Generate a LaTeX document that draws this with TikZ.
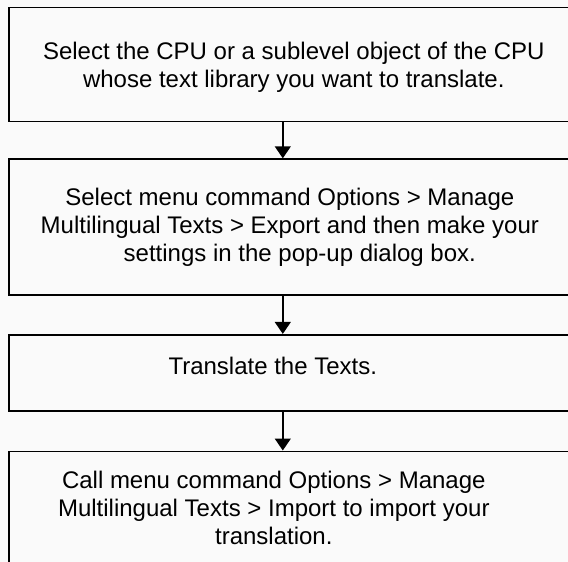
\documentclass[tikz,border=0pt]{standalone}
\usepackage{fontspec}
\setmainfont{Liberation Sans}
\usetikzlibrary{arrows.meta,positioning}
\tikzset{
  stepbox/.style={draw=black, line width=1.6pt, minimum width=570pt, inner sep=0pt},
  steptext/.style={align=center, inner sep=0pt, font=\fontsize{24}{28}\selectfont},
  arr/.style={-{Triangle[width=16pt,length=12pt]}, line width=1.4pt},
}
\begin{document}
\begin{tikzpicture}[x=1pt, y=1pt]
  \useasboundingbox[fill=white!98!black] (0,0) rectangle (568,-562);
  \clip (0,0) rectangle (568,-562);

  % the four steps
  \node[stepbox, minimum height=114pt, anchor=north west] (sel) at (8,-6.7) {};
  \node[stepbox, minimum height=136pt, below=36pt of sel] (exp) {};
  \node[stepbox, minimum height=76pt, below=38pt of exp] (trn) {};
  \node[stepbox, minimum height=124pt, below=39pt of trn] (imp) {};

  \node[steptext] (seltxt) at ([yshift=-3pt]sel.center)
    {Select the CPU or a sublevel object of the CPU\\whose text library you want to translate.};
  \node[steptext] (exptxt) at ([xshift=-4pt]exp.center)
    {Select menu command Options > Manage\\Multilingual Texts > Export and then make your\\\hspace*{20pt}settings in the pop-up dialog box.};
  \node[steptext] (trntxt) at ([xshift=-21pt,yshift=7pt]trn.center)
    {Translate the Texts.};
  \node[steptext] (imptxt) at ([xshift=-20pt,yshift=-57pt]imp.north)
    {Call menu command Options > Manage\\Multilingual Texts > Import to import your\\translation.};

  % Arrows between the steps
  \draw[arr] ([xshift=-11pt]sel.south) -- ([xshift=-11pt]exp.north);
  \draw[arr] ([xshift=-11pt]exp.south) -- ([xshift=-11pt]trn.north);
  \draw[arr] ([xshift=-11pt]trn.south) -- ([xshift=-11pt]imp.north);
\end{tikzpicture}
\end{document}
